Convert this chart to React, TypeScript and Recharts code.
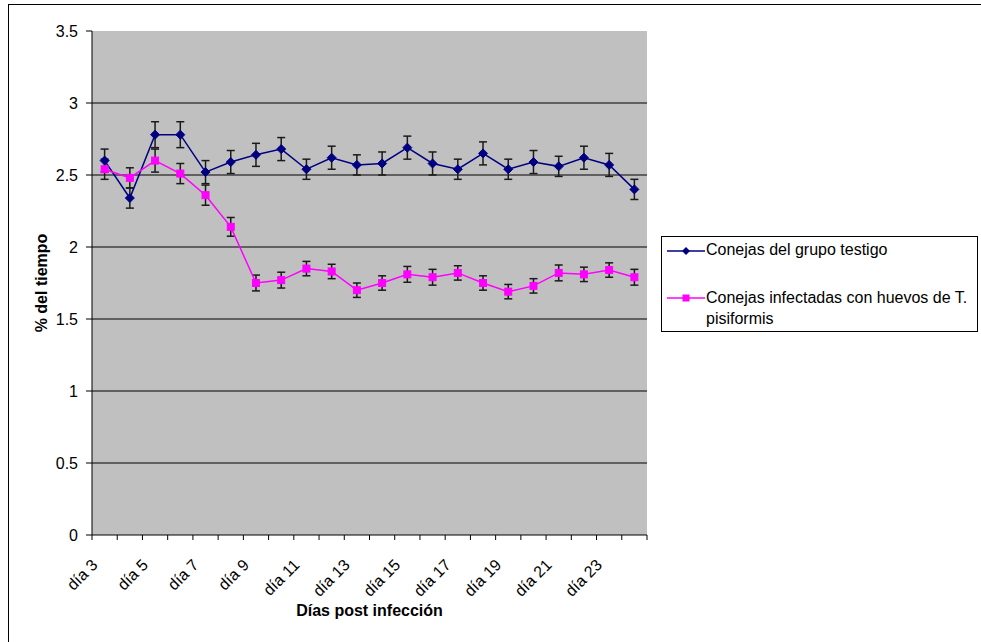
import React from "react"
import { LineChart, Line, XAxis, YAxis, CartesianGrid, ErrorBar, Label } from "recharts"

const CATEGORIES = [
  "día 3", "día 4", "día 5", "día 6", "día 7", "día 8", "día 9", "día 10", "día 11", "día 12", "día 13",
  "día 14", "día 15", "día 16", "día 17", "día 18", "día 19", "día 20", "día 21", "día 22", "día 23", "día 24",
]

const TESTIGO = [
  2.6, 2.34, 2.78, 2.78, 2.52, 2.59, 2.64, 2.68, 2.54, 2.62, 2.57,
  2.58, 2.69, 2.58, 2.54, 2.65, 2.54, 2.59, 2.56, 2.62, 2.57, 2.4,
]
const TESTIGO_ERR = [
  0.08, 0.07, 0.09, 0.09, 0.08, 0.08, 0.08, 0.08, 0.07, 0.08, 0.07,
  0.08, 0.08, 0.08, 0.07, 0.08, 0.07, 0.08, 0.07, 0.08, 0.08, 0.07,
]

const INFECTADAS = [
  2.54, 2.48, 2.6, 2.51, 2.36, 2.14, 1.75, 1.77, 1.85, 1.83, 1.7,
  1.75, 1.81, 1.79, 1.82, 1.75, 1.69, 1.73, 1.82, 1.81, 1.84, 1.79,
]
const INFECTADAS_ERR = [
  0.07, 0.07, 0.08, 0.07, 0.07, 0.065, 0.055, 0.055, 0.05, 0.05, 0.05,
  0.05, 0.055, 0.055, 0.05, 0.05, 0.05, 0.05, 0.055, 0.05, 0.05, 0.055,
]

const Y_TICKS = [0, 0.5, 1, 1.5, 2, 2.5, 3, 3.5]
const GRID_VALUES = [0.5, 1, 1.5, 2, 2.5, 3]

const SERIES_NAMES = ["Conejas del grupo testigo", "Conejas infectadas con huevos de T. pisiformis"]
const BLUE = "#000080"
const PINK = "#ff00ff"
const FONT = "'Liberation Sans', Arial, sans-serif"
const FS = 16

const data = CATEGORIES.map((name, i) => ({
  x: i + 0.5,
  name,
  testigo: TESTIGO[i],
  errT: TESTIGO_ERR[i],
  infectadas: INFECTADAS[i],
  errI: INFECTADAS_ERR[i],
}))

const xTicks = Array.from({ length: CATEGORIES.length + 1 }, (_, i) => i)

const Diamond = (props: any) => {
  const { cx, cy, index } = props
  if (cx == null || cy == null) return <g key={`d${index}`} />
  const r = 4.5
  return (
    <polygon
      key={`d${index}`}
      points={`${cx},${cy - r} ${cx + r},${cy} ${cx},${cy + r} ${cx - r},${cy}`}
      fill={BLUE}
      stroke={BLUE}
    />
  )
}

const Square = (props: any) => {
  const { cx, cy, index } = props
  if (cx == null || cy == null) return <g key={`s${index}`} />
  return <rect key={`s${index}`} x={cx - 3.5} y={cy - 3.5} width={7} height={7} fill={PINK} stroke={PINK} />
}

// category labels sit in the middle of each band, every other one
const XTick = (props: any) => {
  const { x, y, payload, width } = props
  const k = payload.value
  if (k >= CATEGORIES.length || k % 2 !== 0) return <g />
  const band = (width || 555) / CATEGORIES.length
  const ax = x + band / 2 - 6
  const ay = y + 24
  return (
    <text
      x={ax}
      y={ay}
      textAnchor="end"
      fontSize={FS}
      fill="#000"
      fontFamily={FONT}
      transform={`rotate(-45 ${ax} ${ay})`}
    >
      {CATEGORIES[k]}
    </text>
  )
}

function LegendBox() {
  return (
    <div
      style={{
        position: "absolute",
        left: 661,
        top: 236,
        width: 317,
        height: 96,
        border: "1px solid #000",
        boxSizing: "border-box",
        background: "#fff",
        fontFamily: FONT,
        fontSize: FS,
        color: "#000",
      }}
    >
      <svg width={40} height={12} style={{ position: "absolute", left: 5, top: 8 }}>
        <line x1={0} y1={6} x2={38} y2={6} stroke={BLUE} strokeWidth={1.5} />
        <polygon points="19,2 23,6 19,10 15,6" fill={BLUE} />
      </svg>
      <div style={{ position: "absolute", left: 44, top: 3, whiteSpace: "nowrap", lineHeight: "20px" }}>
        {SERIES_NAMES[0]}
      </div>
      <svg width={40} height={12} style={{ position: "absolute", left: 5, top: 55 }}>
        <line x1={0} y1={6} x2={38} y2={6} stroke={PINK} strokeWidth={1.5} />
        <rect x={15.5} y={2.5} width={7} height={7} fill={PINK} />
      </svg>
      <div style={{ position: "absolute", left: 44, top: 50, width: 272, lineHeight: "21px" }}>
        {SERIES_NAMES[1]}
      </div>
    </div>
  )
}

export default function App() {
  return (
    <div style={{ position: "absolute", left: 0, top: 0, width: 981, height: 642, background: "#fff", fontFamily: FONT }}>
      <div
        style={{
          position: "absolute",
          left: 8,
          top: 4,
          width: 973,
          height: 638,
          borderLeft: "1px solid #000",
          borderTop: "1px solid #000",
          boxSizing: "border-box",
        }}
      />
      <div style={{ position: "absolute", left: 0, top: 0 }}>
        <LineChart width={981} height={642} data={data} margin={{ top: 31, right: 334, bottom: 0, left: 40 }}>
          <CartesianGrid
            vertical={false}
            horizontalValues={GRID_VALUES}
            stroke="#000"
            fill="#c0c0c0"
            fillOpacity={1}
          />
          <XAxis
            dataKey="x"
            type="number"
            domain={[0, CATEGORIES.length]}
            ticks={xTicks}
            interval={0}
            height={107}
            tick={<XTick />}
            tickSize={5}
            stroke="#000"
            allowDecimals={false}
          >
            <Label
              content={(p: any) => {
                const vb = p.viewBox || {}
                return (
                  <text
                    x={vb.x + vb.width / 2}
                    y={vb.y + 81}
                    textAnchor="middle"
                    fontSize={FS}
                    fontWeight="bold"
                    fontFamily={FONT}
                    fill="#000"
                  >
                    Días post infección
                  </text>
                )
              }}
            />
          </XAxis>
          <YAxis
            domain={[0, 3.5]}
            ticks={Y_TICKS}
            width={52}
            tickSize={6}
            tickMargin={8}
            stroke="#000"
            tick={{ fill: "#000", fontSize: FS, fontFamily: FONT }}
            interval={0}
          >
            <Label
              content={(p: any) => {
                const vb = p.viewBox || {}
                const cx = vb.x + 1
                const cy = vb.y + vb.height / 2
                return (
                  <text
                    x={cx}
                    y={cy}
                    textAnchor="middle"
                    dominantBaseline="central"
                    fontSize={FS}
                    fontWeight="bold"
                    fontFamily={FONT}
                    fill="#000"
                    transform={`rotate(-90 ${cx} ${cy})`}
                  >
                    % del tiempo
                  </text>
                )
              }}
            />
          </YAxis>
          <Line
            dataKey="testigo"
            stroke={BLUE}
            strokeWidth={1.5}
            dot={<Diamond />}
            activeDot={false}
            isAnimationActive={false}
          >
            <ErrorBar dataKey="errT" width={4} stroke="#1a1a1a" strokeWidth={1.5} direction="y" />
          </Line>
          <Line
            dataKey="infectadas"
            stroke={PINK}
            strokeWidth={1.5}
            dot={<Square />}
            activeDot={false}
            isAnimationActive={false}
          >
            <ErrorBar dataKey="errI" width={4} stroke="#1a1a1a" strokeWidth={1.5} direction="y" />
          </Line>
        </LineChart>
      </div>
      <LegendBox />
    </div>
  )
}
